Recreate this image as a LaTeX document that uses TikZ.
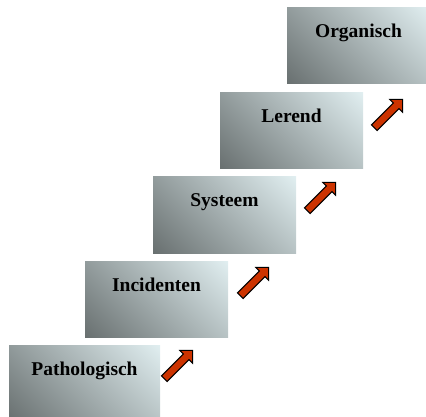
\documentclass[tikz,border=0pt]{standalone}
\usepackage{fontspec}
\setmainfont{Liberation Serif}
\usepackage{tikz}
\usetikzlibrary{shapes.arrows}

\definecolor{boxlight}{HTML}{E5F3F5}
\definecolor{boxdark}{HTML}{646B6B}
\definecolor{arrowred}{HTML}{CC3300}
\pgfdeclareverticalshading{stepshade}{100bp}{color(0bp)=(boxdark); color(12bp)=(boxdark);
    color(88bp)=(boxlight); color(100bp)=(boxlight)}

\begin{document}
\begin{tikzpicture}[x=1pt, y=-1pt,
        stepbox/.style={rectangle, inner sep=0pt, minimum width=143pt,
            text height=30pt, text depth=46pt,
            shading=stepshade, shading angle=-45,
            font=\fontsize{19.5}{20}\selectfont\bfseries},
        up arrow/.style={single arrow, draw=black, line width=1pt, fill=arrowred,
            inner sep=3.5pt, minimum height=40pt, single arrow head extend=5pt,
            rotate=45}]
    \useasboundingbox (0,0) rectangle (426,417);

    \node[stepbox, minimum width=151pt] (1) at (84.5,383) {Pathologisch};
    \node[stepbox] (2) at (156.5,299.5) {Incidenten};
    \node[stepbox] (3) at (224.5,215) {Systeem};
    \node[stepbox] (4) at (291.5,131) {Lerend};
    \node[stepbox] (5) at (358.5,46) {Organisch};

    \node[up arrow] (a1) at (177,366) {};
    \node[up arrow] (a2) at (253,283) {};
    \node[up arrow] (a3) at (320,198) {};
    \node[up arrow] (a4) at (387,115) {};
\end{tikzpicture}
\end{document}
